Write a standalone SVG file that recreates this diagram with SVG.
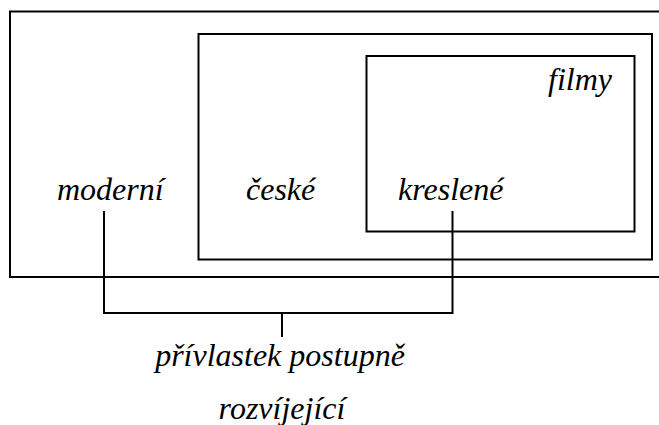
<svg xmlns="http://www.w3.org/2000/svg" width="659" height="425" viewBox="0 0 659 425">
<defs>
<rect id="unused-none" width="0" height="0" fill="none"/>
</defs>
<rect width="659" height="425" fill="#fff"/>
<g id="outer"><rect x="10" y="11.5" width="660" height="265.5" fill="none" stroke="#000" stroke-width="2"/><text x="57" y="200" font-family="Liberation Serif" font-style="italic" font-size="32">moderní</text></g>
<g id="middle"><rect x="198.5" y="34" width="453.5" height="225.5" fill="none" stroke="#000" stroke-width="2"/><text x="246" y="200" font-family="Liberation Serif" font-style="italic" font-size="32">české</text></g>
<g id="inner"><rect x="366.5" y="56" width="268" height="175.5" fill="none" stroke="#000" stroke-width="2"/><text x="398" y="200" font-family="Liberation Serif" font-style="italic" font-size="32">kreslené</text><text x="548" y="90" font-family="Liberation Serif" font-style="italic" font-size="32">filmy</text></g>
<g id="connectors"><path d="M104,211 V313 H452.5 V211 M282,313 V337" fill="none" stroke="#000" stroke-width="2"/></g>
<g id="label"><text x="280" y="366" text-anchor="middle" font-family="Liberation Serif" font-style="italic" font-size="32">přívlastek postupně</text><text x="282" y="419" text-anchor="middle" font-family="Liberation Serif" font-style="italic" font-size="32">rozvíjející</text></g>
</svg>
